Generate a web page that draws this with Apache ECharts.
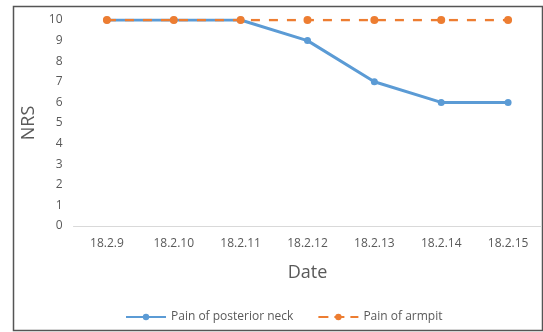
<!DOCTYPE html>
<html>
<head>
<meta charset="utf-8">
<script src="https://cdn.jsdelivr.net/npm/echarts@6/dist/echarts.min.js"></script>
<style>
  html, body { margin: 0; padding: 0; background: #fff; }
  #chart { width: 543px; height: 332px; }
</style>
</head>
<body>
<div id="chart"></div>
<script>
// Daily pain scores (NRS) for two sites
const dates = ['18.2.9', '18.2.10', '18.2.11', '18.2.12', '18.2.13', '18.2.14', '18.2.15'];
const neckPain = [10, 10, 10, 9, 7, 6, 6];
const armpitPain = [10, 10, 10, 10, 10, 10, 10];
const seriesNames = ['Pain of posterior neck', 'Pain of armpit'];

const textColor = '#595959';
const fontFamily = '"Open Sans", "Liberation Sans", sans-serif';

const chart = echarts.init(document.getElementById('chart'), null, { renderer: 'canvas' });
chart.setOption({
  animation: false,
  backgroundColor: '#fff',
  textStyle: { fontFamily: fontFamily },
  graphic: [{
    type: 'rect',
    shape: { x: 13.5, y: 6.5, width: 529, height: 324 },
    style: { fill: 'none', stroke: '#555', lineWidth: 1.5 },
    silent: true
  }],
  grid: { left: 73.5, right: 1.5, top: 20, bottom: 106 },
  legend: {
    bottom: 4,
    left: 120,
    itemWidth: 40,
    itemHeight: 8,
    itemGap: 24,
    textStyle: { color: textColor, fontSize: 12, fontFamily: fontFamily },
    data: [
      { name: seriesNames[0] },
      { name: seriesNames[1], lineStyle: { type: [10, 6] } }
    ]
  },
  xAxis: {
    type: 'category',
    data: dates,
    boundaryGap: true,
    name: 'Date',
    nameLocation: 'middle',
    nameGap: 38,
    nameTextStyle: { color: textColor, fontSize: 18, fontFamily: fontFamily },
    axisLine: { lineStyle: { color: '#d9d9d9', width: 1 } },
    axisTick: { show: false },
    axisLabel: { color: textColor, fontSize: 12, margin: 12, fontFamily: fontFamily }
  },
  yAxis: {
    type: 'value',
    min: 0,
    max: 10,
    interval: 1,
    name: 'NRS',
    nameLocation: 'middle',
    nameGap: 33,
    nameRotate: 90,
    nameTextStyle: { color: textColor, fontSize: 18, fontFamily: fontFamily },
    axisLine: { show: false },
    axisTick: { show: false },
    splitLine: { show: false },
    axisLabel: { color: textColor, fontSize: 12, margin: 11, fontFamily: fontFamily }
  },
  series: [
    {
      name: seriesNames[0],
      type: 'line',
      data: neckPain,
      symbol: 'circle',
      symbolSize: 7,
      itemStyle: { color: '#5B9BD5' },
      lineStyle: { color: '#5B9BD5', width: 3 },
      z: 2
    },
    {
      name: seriesNames[1],
      type: 'line',
      data: armpitPain,
      symbol: 'circle',
      symbolSize: 8,
      itemStyle: { color: '#ED7D31' },
      lineStyle: { color: '#ED7D31', width: 2.5, type: [9, 9] },
      z: 3
    }
  ]
});
</script>
</body>
</html>
